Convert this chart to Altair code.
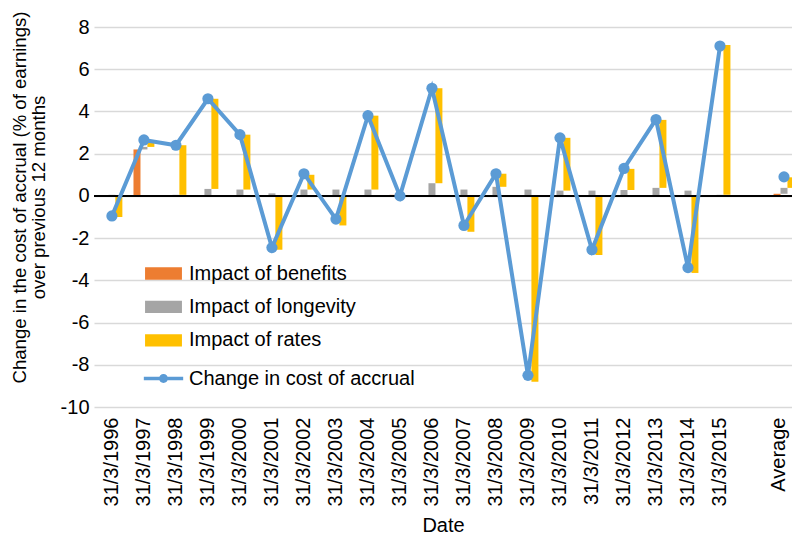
import altair as alt
import pandas as pd

# ---- data ----
categories = ["31/3/1996", "31/3/1997", "31/3/1998", "31/3/1999", "31/3/2000",
              "31/3/2001", "31/3/2002", "31/3/2003", "31/3/2004", "31/3/2005",
              "31/3/2006", "31/3/2007", "31/3/2008", "31/3/2009", "31/3/2010",
              "31/3/2011", "31/3/2012", "31/3/2013", "31/3/2014", "31/3/2015",
              "Average"]
benefits = [0.0, 2.2, 0.0, 0.0, 0.0, 0.0, 0.0, 0.0, 0.0, 0.05,
            0.0, 0.0, 0.0, 0.0, 0.0, 0.0, 0.0, 0.0, 0.0, 0.0, 0.1]
longevity = [0.05, 0.12, 0.05, 0.33, 0.3, 0.12, 0.3, 0.3, 0.3, 0.0,
             0.6, 0.3, 0.43, 0.3, 0.25, 0.25, 0.28, 0.38, 0.25, 0.05, 0.28]
rates = [-1.0, 0.25, 2.35, 4.27, 2.6, -2.55, 0.7, -1.4, 3.5, -0.05,
         4.5, -1.7, 0.62, -8.8, 2.5, -2.8, 1.0, 3.22, -3.65, 7.1, 0.5]
total = [-0.95, 2.65, 2.4, 4.6, 2.9, -2.45, 1.05, -1.1, 3.8, 0.0,
         5.1, -1.4, 1.05, -8.5, 2.75, -2.55, 1.3, 3.62, -3.4, 7.1, 0.9]

series_names = ["Impact of benefits", "Impact of longevity", "Impact of rates"]
series_colors = ["#ED7D31", "#A5A5A5", "#FFC000"]
line_name = "Change in cost of accrual"
line_color = "#5B9BD5"

# slot index: 20 dated slots, one empty slot, then Average
slot = list(range(20)) + [21]

rows = []
for i, cat in enumerate(categories):
    for k, (name, vals) in enumerate(zip(series_names, [benefits, longevity, rates])):
        rows.append({"idx": slot[i], "cat": cat, "k": k, "series": name, "value": vals[i]})
bars_df = pd.DataFrame(rows)

line_df = pd.DataFrame({"idx": slot, "cat": categories, "total": total,
                        "lname": [line_name] * len(categories)})
zero_df = pd.DataFrame({"zero": [0]})

FONT = "Liberation Sans"
label_expr = "[" + ",".join("'" + c + "'" for c in categories[:20]) + ",'','" + categories[20] + "'][datum.value]"

x_scale = alt.Scale(domain=[-0.56, 21.25], nice=False, zero=False, padding=0)
y_scale = alt.Scale(domain=[-10, 8], nice=False, padding=0)

x_axis = alt.Axis(values=slot, labelExpr=label_expr, labelAngle=270, labelAlign="right",
                  labelBaseline="middle", labelPadding=10, labelOverlap=False, labelFlush=False,
                  labelOffset={"condition": {"test": "datum.value == 21", "value": -5}, "value": 0},
                  domain=False, ticks=False, grid=False, title="Date", titleY=124,
                  titleBaseline="alphabetic")
y_axis = alt.Axis(values=list(range(-10, 9, 2)), labelExpr="'' + datum.value",
                  domain=False, ticks=False, grid=True, labelOverlap=False, labelFlush=False,
                  gridColor="#D9D9D9", gridWidth=1.5, labelPadding=5,
                  title=["Change in the cost of accrual (% of earnings)", "over previous 12 months"],
                  titleAngle=270, titleX=-69, titleY=170, titleAlign="center",
                  titleBaseline="alphabetic", titleLineHeight=19, titleFontSize=18.6)

bar_path = "M-1.5,-0.5H1.5V0.5H-1.5Z"
line_path = ("M-1.6,-0.15H1.6V0.15H-1.6Z "
             "M0.36,0A0.36,0.36 0 1 1 -0.36,0A0.36,0.36 0 1 1 0.36,0Z")

bars = alt.Chart(bars_df).transform_stack(
    stack="value", groupby=["idx"], as_=["y0", "y1"], sort=[alt.SortField("k")], offset="zero"
).transform_calculate(
    xpos="datum.idx + (datum.k - 1) * 0.217"
).mark_bar(size=7, clip=False).encode(
    x=alt.X("xpos:Q", scale=x_scale, axis=x_axis),
    y=alt.Y("y0:Q", scale=y_scale, axis=y_axis),
    y2="y1:Q",
    color=alt.Color("series:N", scale=alt.Scale(domain=series_names, range=series_colors),
                    legend=alt.Legend(title=None, orient="none", legendX=57, legendY=234,
                                      symbolType=bar_path, symbolSize=605, symbolStrokeWidth=0,
                                      labelOffset=13, rowPadding=10.4, padding=0,
                                      labelFontSize=20, labelFont=FONT, labelColor="#000",
                                      labelLimit=400, symbolOpacity=1)),
)

zero_rule = alt.Chart(zero_df).mark_rule(color="#000", strokeWidth=2).encode(
    y=alt.Y("zero:Q", scale=y_scale, axis=y_axis)
)

line = alt.Chart(line_df).transform_filter("datum.idx < 20").mark_line(
    color=line_color, strokeWidth=4).encode(
    x=alt.X("idx:Q", scale=x_scale, axis=x_axis),
    y=alt.Y("total:Q", scale=y_scale, axis=y_axis),
)

points = alt.Chart(line_df).mark_point(filled=True, size=125, opacity=1).encode(
    x=alt.X("idx:Q", scale=x_scale, axis=x_axis),
    y=alt.Y("total:Q", scale=y_scale, axis=y_axis),
    fill=alt.Fill("lname:N", scale=alt.Scale(domain=[line_name], range=[line_color]),
                  legend=alt.Legend(title=None, orient="none", legendX=57, legendY=339,
                                    symbolType=line_path, symbolSize=605, symbolStrokeWidth=0,
                                    labelOffset=13, padding=0, labelFontSize=20,
                                    labelFont=FONT, labelColor="#000", labelLimit=400,
                                    symbolOpacity=1)),
)

chart = alt.layer(bars, zero_rule, line, points).properties(
    width=698, height=380,
    autosize=alt.AutoSizeParams(type="none"),
    padding={"left": 86, "top": 19, "right": 0, "bottom": 128},
).configure_view(stroke=None).configure_axis(
    labelFont=FONT, titleFont=FONT, labelFontSize=20, titleFontSize=20,
    labelColor="#000", titleColor="#000", titleFontWeight="normal"
).configure_legend(labelFont=FONT)

chart.save("out.html", embed_options={"renderer": "svg", "actions": False})
